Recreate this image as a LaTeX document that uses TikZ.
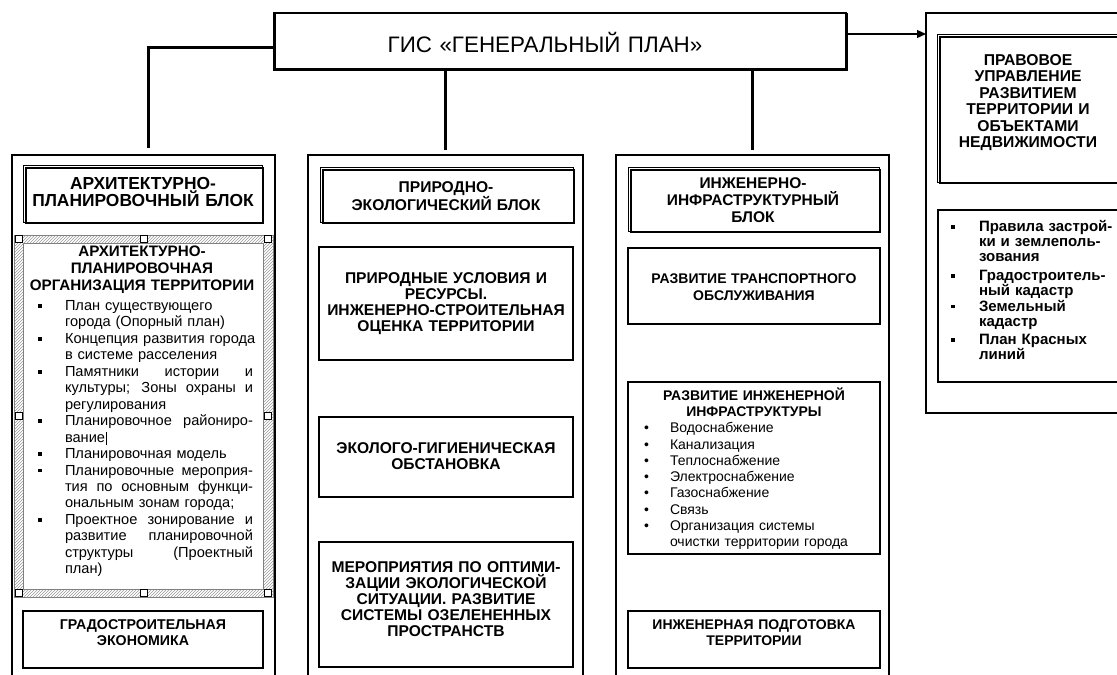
\documentclass[tikz,border=0pt]{standalone}
\usepackage{fontspec}
\setmainfont{Liberation Sans}
\usetikzlibrary{arrows.meta,patterns}

% square and round list bullets, a justified list line
\newcommand{\sqbul}{\leavevmode\llap{\rule[2.8pt]{3.6pt}{3.6pt}\hspace{23pt}}}
\newcommand{\sqbulr}{\leavevmode\llap{\rule[2.8pt]{3.6pt}{3.6pt}\hspace{24pt}}}
\newcommand{\rdbul}{\leavevmode\llap{\textbullet\hspace{21pt}}}
\newcommand{\jline}[1]{\makebox[188pt][s]{\spaceskip=0.28em plus 10em\relax #1}}

\tikzset{
  plainbox/.style={draw, line width=1.4pt, inner sep=0pt, outer sep=0pt, anchor=north west},
  colbox/.style={draw, line width=1.3pt, inner sep=0pt, outer sep=0pt, anchor=north west},
  raised/.style={draw, line width=2.4pt, inner sep=0pt, outer sep=0pt, anchor=north west},
  lbl/.style={inner sep=0pt, outer sep=0pt, anchor=base, align=center, text width=#1},
  lbl/.default=250pt,
  lst/.style={inner sep=0pt, outer sep=0pt, anchor=base west, align=left, text width=#1},
  lst/.default=230pt,
  link/.style={line width=3pt},
  handle/.style={draw, fill=white, line width=0.6pt},
}

% thin offset outline that gives a raised frame its 3D look
\newcommand{\shadowframe}[1]{%
  \draw[line width=0.8pt] ([shift={(-3pt,3pt)}]#1.north west) rectangle ([shift={(-1pt,1pt)}]#1.south east);}

\begin{document}
\begin{tikzpicture}[x=1pt,y=-1pt]
\useasboundingbox (0,0) rectangle (1117,675);
\clip (0,0) rectangle (1117,675);

% ---------- root ----------
\node[plainbox, line width=1.3pt, minimum width=572pt, minimum height=56pt] (gis) at (274,13) {};
\draw[line width=3pt] (gis.north west) -- (gis.south west) -- (gis.south east) -- (gis.north east);
\node[lbl=560pt, font=\fontsize{22.4}{22.4}\selectfont] (gis-t) at (545,52.5) {ГИС «ГЕНЕРАЛЬНЫЙ ПЛАН»};

% ---------- columns ----------
\node[colbox, minimum width=263pt, minimum height=545pt] (col1) at (12,155) {};
\node[colbox, minimum width=275pt, minimum height=545pt] (col2) at (308,155) {};
\node[colbox, minimum width=273pt, minimum height=545pt] (col3) at (616,155) {};
\node[colbox, minimum width=215pt, minimum height=400pt] (col4) at (926,13) {};

% ---------- connectors ----------
\draw[link] ([yshift=-6pt]gis.west) -| ([xshift=4.5pt,yshift=7pt]col1.north);
\draw[link] (gis.south -| col2.north) -- ([yshift=5pt]col2.north);
\draw[link] (gis.south -| col3.north) -- ([yshift=5pt]col3.north);
\draw[line width=1.3pt, -{Triangle[length=9pt,width=8pt]}] ([yshift=7pt]gis.east) -- ([yshift=7pt]gis.east -| col4.west);

% ---------- column 1 ----------
\node[raised, minimum width=237pt, minimum height=55pt] (t1) at (26,168) {};
\shadowframe{t1}
\node[lbl, font=\fontsize{17.4}{16.8}\selectfont\bfseries] (t1-t) at (143,189.5) {АРХИТЕКТУРНО-\\ПЛАНИРОВОЧНЫЙ БЛОК};

% hatched selection frame with its handles
\fill[pattern=north east lines, pattern color=gray!80, even odd rule] (14,235) rectangle (273,597) (23,243) rectangle (263,589);
\draw[gray, line width=0.5pt] (14,235) rectangle (273,597) (23,243) rectangle (263,589);
\foreach \hx/\hy in {18.5/239, 143.5/239, 268/239, 18.5/416, 268/416, 18.5/593, 143.5/593, 268/593}
  \draw[handle] (\hx-3.5,\hy-3.5) rectangle (\hx+3.5,\hy+3.5);

\node[lbl, font=\fontsize{15.2}{17}\selectfont\bfseries] (apo-t) at (142,256) {АРХИТЕКТУРНО-\\ПЛАНИРОВОЧНАЯ\\ОРГАНИЗАЦИЯ ТЕРРИТОРИИ};
\node[lst, font=\fontsize{14.6}{16.45}\selectfont] (apo-l) at (65,310.5) {%
\sqbul План существующего\\
города (Опорный план)\\
\sqbul Концепция развития города\\
в системе расселения\\
\sqbul\jline{Памятники истории и}\\
\jline{культуры; Зоны охраны и}\\
регулирования\\
\sqbul\jline{Планировочное райониро-}\\
вание\hspace{0.5pt}\rule[-3pt]{1pt}{13pt}\\
\sqbul Планировочная модель\\
\sqbul\jline{Планировочные мероприя-}\\
\jline{тия по основным функци-}\\
ональным зонам города;\\
\sqbul\jline{Проектное зонирование и}\\
\jline{развитие планировочной}\\
\jline{структуры (Проектный}\\
план)};

\node[plainbox, minimum width=240pt, minimum height=57pt] (grad) at (23,611) {};
\node[lbl, font=\fontsize{14.2}{15.7}\selectfont\bfseries] (grad-t) at (143,629.3) {ГРАДОСТРОИТЕЛЬНАЯ\\ЭКОНОМИКА};

% ---------- column 2 ----------
\node[raised, minimum width=251pt, minimum height=53pt] (t2) at (323,170) {};
\shadowframe{t2}
\node[lbl, font=\fontsize{15.6}{17.3}\selectfont\bfseries] (t2-t) at (446,192.7) {ПРИРОДНО-\\ЭКОЛОГИЧЕСКИЙ БЛОК};

\node[plainbox, minimum width=254pt, minimum height=113pt] (b21) at (319,247) {};
\node[lbl, font=\fontsize{15.6}{15.9}\selectfont\bfseries] (b21-t) at (446,283.3) {ПРИРОДНЫЕ УСЛОВИЯ И\\РЕСУРСЫ.\\ИНЖЕНЕРНО-СТРОИТЕЛЬНАЯ\\ОЦЕНКА ТЕРРИТОРИИ};

\node[plainbox, minimum width=254pt, minimum height=80pt] (b22) at (319,417) {};
\node[lbl, font=\fontsize{15.6}{15.8}\selectfont\bfseries] (b22-t) at (446,453.3) {ЭКОЛОГО-ГИГИЕНИЧЕСКАЯ\\ОБСТАНОВКА};

\node[plainbox, minimum width=254pt, minimum height=125pt] (b23) at (319,542) {};
\node[lbl, font=\fontsize{15.6}{16.2}\selectfont\bfseries] (b23-t) at (446,572) {МЕРОПРИЯТИЯ ПО ОПТИМИ-\\ЗАЦИИ ЭКОЛОГИЧЕСКОЙ\\СИТУАЦИИ. РАЗВИТИЕ\\СИСТЕМЫ ОЗЕЛЕНЕННЫХ\\ПРОСТРАНСТВ};

% ---------- column 3 ----------
\node[raised, minimum width=249pt, minimum height=62pt] (t3) at (631,170) {};
\shadowframe{t3}
\node[lbl, font=\fontsize{15.5}{17.2}\selectfont\bfseries] (t3-t) at (753,188.3) {ИНЖЕНЕРНО-\\ИНФРАСТРУКТУРНЫЙ\\БЛОК};

\node[plainbox, minimum width=252pt, minimum height=76pt] (b31) at (628,248) {};
\node[lbl, font=\fontsize{14}{16.7}\selectfont\bfseries] (b31-t) at (754,283.3) {РАЗВИТИЕ ТРАНСПОРТНОГО\\ОБСЛУЖИВАНИЯ};

\node[plainbox, minimum width=252pt, minimum height=172pt] (b32) at (628,382) {};
\node[lbl, font=\fontsize{14}{16}\selectfont\bfseries] (b32-t) at (754,400) {РАЗВИТИЕ ИНЖЕНЕРНОЙ\\ИНФРАСТРУКТУРЫ};
\node[lst, font=\fontsize{14}{16.3}\selectfont] (b32-l) at (670,432.7) {%
\rdbul Водоснабжение\\
\rdbul Канализация\\
\rdbul Теплоснабжение\\
\rdbul Электроснабжение\\
\rdbul Газоснабжение\\
\rdbul Связь\\
\rdbul Организация системы\\
очистки территории города};

\node[plainbox, minimum width=252pt, minimum height=57pt] (b33) at (628,611) {};
\node[lbl, font=\fontsize{14}{15.7}\selectfont\bfseries] (b33-t) at (754,629.3) {ИНЖЕНЕРНАЯ ПОДГОТОВКА\\ТЕРРИТОРИИ};

% ---------- column 4 ----------
\node[raised, minimum width=200pt, minimum height=146pt] (t4) at (940,37) {};
\shadowframe{t4}
\node[lbl, font=\fontsize{15.7}{16.5}\selectfont\bfseries] (t4-t) at (1028,65) {ПРАВОВОЕ\\УПРАВЛЕНИЕ\\РАЗВИТИЕМ\\ТЕРРИТОРИИ И\\ОБЪЕКТАМИ\\НЕДВИЖИМОСТИ};

\node[plainbox, minimum width=200pt, minimum height=172pt] (b41) at (938,210) {};
\node[lst=150pt, font=\fontsize{15}{15}\selectfont\bfseries] (b41-a) at (979,231.5) {\sqbulr Правила застрой-\\ки и землеполь-\\зования};
\node[lst=150pt, font=\fontsize{15}{15}\selectfont\bfseries] (b41-b) at (979,280.5) {\sqbulr Градостроитель-\\ный кадастр};
\node[lst=150pt, font=\fontsize{15}{15}\selectfont\bfseries] (b41-c) at (979,311) {\sqbulr Земельный\\кадастр};
\node[lst=150pt, font=\fontsize{15}{15}\selectfont\bfseries] (b41-d) at (979,344.5) {\sqbulr План Красных\\линий};

\end{tikzpicture}
\end{document}
